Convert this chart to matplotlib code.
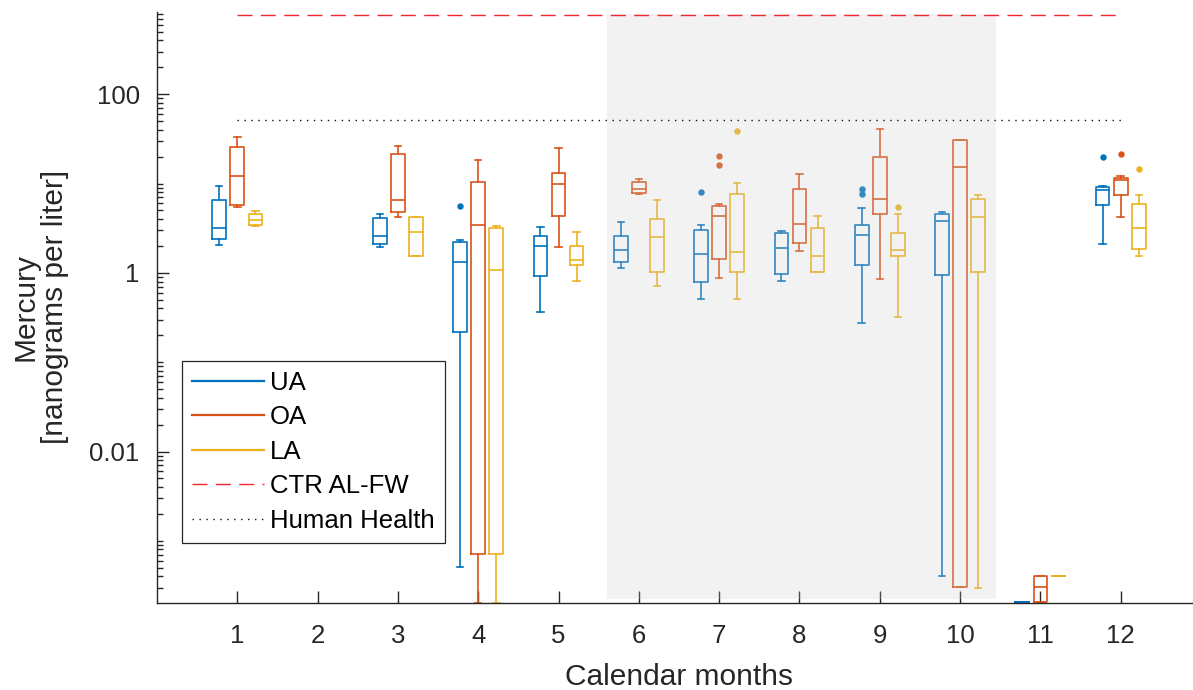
import numpy as np
import matplotlib.pyplot as plt
from matplotlib.lines import Line2D
from matplotlib.ticker import FixedLocator, NullFormatter

plt.rcParams['font.family'] = ['Liberation Sans', 'DejaVu Sans']

# --- Daten ---
months = list(range(1, 13))

# je Monat: [unterer Whisker, Q1, Median, Q3, oberer Whisker]; None = keine Proben
ua_stats = [
    [2.04, 2.4, 3.16, 6.5, 9.5],
    None,
    [1.94, 2.09, 2.57, 4.09, 4.62],
    [5.06e-4, 0.22, 1.31, 2.24, 2.34],
    [0.365, 0.916, 1.99, 2.62, 3.24],
    [1.12, 1.31, 1.82, 2.57, 3.76],
    [0.511, 0.785, 1.63, 3.03, 3.45],
    [0.813, 0.975, 1.89, 2.81, 2.96],
    [0.275, 1.23, 2.67, 3.45, 5.3],
    [4.04e-4, 0.95, 3.79, 4.58, 4.83],
    [2.06e-4, 2.06e-4, 2.06e-4, 2.06e-4, 2.06e-4],
    [2.13, 5.73, 8.43, 9.12, 9.45],
]
ua_fliers = [[], [], [], [5.68], [], [], [7.95], [], [7.6, 8.74], [], [], [19.8]]

oa_stats = [
    [5.4, 5.8, 12.2, 25.6, 33.5],
    None,
    [4.17, 4.83, 6.6, 21.2, 26.3],
    [2.0e-4, 7.1e-4, 3.45, 10.3, 18.2],
    [1.94, 4.28, 9.95, 13.2, 24.7],
    [7.6, 7.88, 8.59, 10.4, 11.3],
    [0.879, 1.42, 4.39, 5.68, 5.94],
    [1.75, 2.17, 3.57, 8.65, 12.7],
    [0.857, 4.58, 6.69, 20.0, 40.7],
    [3.04e-4, 3.04e-4, 15.3, 30.7, 30.7],
    [2.05e-4, 2.05e-4, 3.04e-4, 4.04e-4, 4.04e-4],
    [4.17, 7.41, 11.1, 11.5, 12.0],
]
oa_fliers = [[], [], [], [], [], [], [16.2, 20.6], [], [], [], [], [21.2]]

la_stats = [
    [3.33, 3.48, 3.96, 4.58, 4.87],
    None,
    [1.53, 1.53, 2.85, 4.17, 4.17],
    [2.0e-4, 7.1e-4, 1.07, 3.16, 3.33],
    [0.813, 1.23, 1.41, 2.02, 2.85],
    [0.715, 1.03, 2.55, 4.06, 6.52],
    [0.511, 1.02, 1.73, 7.6, 10.2],
    [1.03, 1.03, 1.53, 3.22, 4.35],
    [0.324, 1.56, 1.82, 2.83, 4.58],
    [3.0e-4, 1.03, 4.17, 6.69, 7.47],
    [4.07e-4, 4.07e-4, 4.07e-4, 4.07e-4, 4.07e-4],
    [1.53, 1.87, 3.16, 5.87, 7.48],
]
la_fliers = [[], [], [], [], [], [], [38.7], [], [5.5], [], [], [14.4]]

ctr_al_fw = 770     # Grenzwert CTR AL-FW
human_health = 51   # Grenzwert Human Health
dry_season = (5.6, 10.45)

# --- Darstellung ---
series = [
    ('UA', ua_stats, ua_fliers, '#0072BD', -0.225),
    ('OA', oa_stats, oa_fliers, '#D95319', 0.0),
    ('LA', la_stats, la_fliers, '#EDB120', 0.225),
]
txt = '#262626'

fig = plt.figure(figsize=(11.93, 6.90), dpi=100)
ax = fig.add_axes([157 / 1193, 87.5 / 690, 1044 / 1193, 590.8 / 690])

for name, stats, fliers, col, off in series:
    bx, pos = [], []
    for m, s, f in zip(months, stats, fliers):
        if s is None:
            continue
        bx.append(dict(whislo=s[0], q1=s[1], med=s[2], q3=s[3], whishi=s[4], fliers=f))
        pos.append(m + off)
    lp = dict(color=col, linewidth=1.2)
    ax.bxp(bx, positions=pos, widths=0.17, capwidths=0.08, showfliers=True,
           boxprops=lp, whiskerprops=lp, capprops=lp, medianprops=lp,
           flierprops=dict(marker='o', markersize=3.6, markerfacecolor=col,
                           markeredgecolor=col, linestyle='none'),
           manage_ticks=False, zorder=2)

# grau hinterlegter Zeitraum (liegt über den Boxen)
ax.fill_between(dry_season, 2.23e-4, 800, color='0.8', alpha=0.25, lw=0, zorder=3)

ax.plot([1, 12], [ctr_al_fw, ctr_al_fw], color='#f0282d', lw=1.0,
        linestyle=(0, (10.8, 6)), zorder=4)
ax.plot([1, 12], [human_health, human_health], color='#111111', lw=1.0,
        linestyle=(0, (1, 4)), zorder=4)

ax.set_yscale('log')
ax.set_xlim(0, 13)
ax.set_ylim(2.04e-4, 840)

ax.set_xticks(months)
ax.set_xticklabels([str(m) for m in months])
ax.yaxis.set_major_locator(FixedLocator([1e-2, 1, 1e2]))
ax.yaxis.set_minor_locator(FixedLocator(
    [k * 10.0 ** e for e in range(-4, 3) for k in range(1, 10)
     if not (k == 1 and e in (-2, 0, 2))]))
ax.yaxis.set_minor_formatter(NullFormatter())
ax.set_yticklabels(['0.01', '1', '100'])

ax.spines['top'].set_visible(False)
ax.spines['right'].set_visible(False)
for sp in ('left', 'bottom'):
    ax.spines[sp].set_linewidth(1.0)
    ax.spines[sp].set_color(txt)
ax.set_axisbelow(True)
ax.tick_params(which='major', direction='in', length=8.6, width=1.0,
               labelsize=18.5, colors=txt, pad=12.5)
ax.tick_params(axis='x', which='major', pad=15.5)
ax.tick_params(which='minor', direction='in', length=4.3, width=1.0, colors=txt)
ax.tick_params(axis='x', which='minor', bottom=False)

ax.set_xlabel('Calendar months', fontsize=21.5, color=txt, labelpad=10.5)
ax.set_ylabel('Mercury\n[nanograms per liter]', fontsize=21.5, color=txt,
              labelpad=14.5, linespacing=1.1)

handles = [Line2D([], [], color=c, lw=1.6) for _, _, _, c, _ in series]
handles.append(Line2D([], [], color='#f0282d', lw=1.0, linestyle=(0, (10.8, 6))))
handles.append(Line2D([], [], color='#111111', lw=1.0, linestyle=(0, (1, 4))))
leg = ax.legend(handles, ['UA', 'OA', 'LA', 'CTR AL-FW', 'Human Health'],
                loc='upper left', bbox_to_anchor=(182 / 1193, 1 - 361 / 690),
                bbox_transform=fig.transFigure, borderaxespad=0,
                fontsize=18.5, labelspacing=0.41, handlelength=2.8,
                handletextpad=0.25, borderpad=0.38, fancybox=False,
                framealpha=1, edgecolor=txt)
leg.get_frame().set_linewidth(0.9)
leg.set_zorder(10)

fig.savefig('out.png', dpi=100)
